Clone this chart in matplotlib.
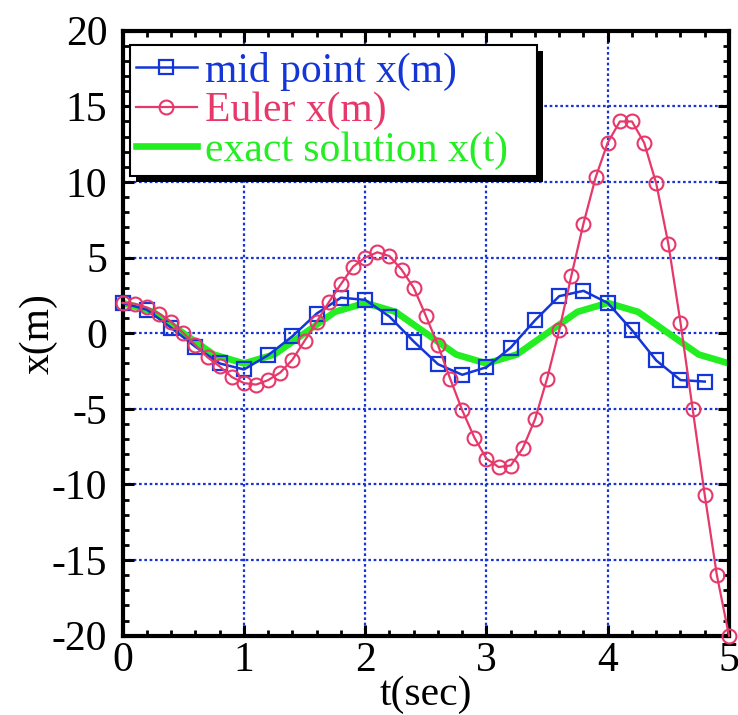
import numpy as np
import matplotlib
matplotlib.use("Agg")
import matplotlib.pyplot as plt
from matplotlib.patches import Rectangle
from matplotlib.ticker import MultipleLocator

plt.rcParams['font.family'] = ['Liberation Serif', 'DejaVu Serif']
plt.rcParams['axes.unicode_minus'] = False

# Euler, pas de 0.1 s
t_euler = np.linspace(0, 5, 51)
x_euler = [2.0, 1.95, 1.7, 1.3, 0.75, 0.0, -0.8, -1.6, -2.2, -2.9, -3.3,
           -3.4, -3.1, -2.6, -1.75, -0.5, 0.75, 2.05, 3.25, 4.4, 5.0,
           5.35, 5.1, 4.2, 3.0, 1.15, -0.8, -3.0, -5.1, -6.9, -8.3,
           -8.85, -8.75, -7.6, -5.7, -3.0, 0.2, 3.8, 7.25, 10.3, 12.6,
           14.0, 14.0, 12.6, 9.9, 5.9, 0.7, -5.0, -10.7, -16.0, -20.0]

# point milieu, pas de 0.2 s
t_mid = np.linspace(0, 4.8, 25)
x_mid = [2.0, 1.55, 0.35, -0.9, -2.0, -2.4, -1.45, -0.2, 1.3, 2.35,
         2.2, 1.1, -0.55, -2.05, -2.75, -2.25, -0.95, 0.85, 2.45, 2.8,
         2.0, 0.2, -1.8, -3.1, -3.2]

# solution exacte, pas de 0.25 s
t_exact = np.linspace(0, 5, 21)
x_exact = [2.0, 1.41, 0.0, -1.41, -2.0, -1.41, 0.0, 1.41, 2.0, 1.41, 0.0,
           -1.41, -2.0, -1.41, 0.0, 1.41, 2.0, 1.41, 0.0, -1.41, -2.0]

c_blue = '#1436d6'
c_red = '#e6386a'
c_green = '#22ee22'

fig = plt.figure(figsize=(7.38, 7.15), dpi=100)
ax = fig.add_axes([0.1663, 0.111, 0.8215, 0.846])

ax.plot(t_exact, x_exact, color=c_green, lw=4.8, zorder=2,
        label='exact solution x(t)', solid_joinstyle='miter')
ax.plot(t_mid, x_mid, color=c_blue, lw=1.8, marker='s', ms=10,
        mfc='none', mec=c_blue, mew=1.6, zorder=3, label='mid point x(m)',
        clip_on=False)
ax.plot(t_euler, x_euler, color=c_red, lw=1.6, marker='o', ms=10,
        mfc='none', mec=c_red, mew=1.5, zorder=4, label='Euler x(m)',
        clip_on=False)

ax.set_xlim(0, 5)
ax.set_ylim(-20, 20)
ax.xaxis.set_major_locator(MultipleLocator(1))
ax.xaxis.set_minor_locator(MultipleLocator(0.2))
ax.yaxis.set_major_locator(MultipleLocator(5))
ax.yaxis.set_minor_locator(MultipleLocator(1))
ax.tick_params(which='both', direction='in', top=True, right=True,
               labelsize=30)
ax.tick_params(which='major', length=8, width=2.2)
ax.tick_params(which='minor', length=4, width=2.0)
ax.tick_params(axis='y', pad=11)
ax.tick_params(axis='x', pad=4)
for s in ax.spines.values():
    s.set_linewidth(3)
ax.grid(True, which='major', color='#1535d8', ls=(0, (1.2, 1.2)), lw=1.6)

ax.set_xlabel('t(sec)', fontsize=30, labelpad=-3)
ax.set_ylabel('x(m)', fontsize=30)
ax.yaxis.set_label_coords(-0.108, 0.5)

handles, labels = ax.get_legend_handles_labels()
order = [1, 2, 0]
leg = ax.legend([handles[i] for i in order], [labels[i] for i in order],
                loc='upper left', bbox_to_anchor=(0.012, 0.758, 0.671, 0.218),
                mode='expand', borderaxespad=0, fontsize=30, fancybox=False,
                edgecolor='k', framealpha=1, handlelength=1.45,
                handletextpad=0.2, labelspacing=0.03, borderpad=0.15)
leg.get_frame().set_linewidth(1.5)
for txt, h in zip(leg.get_texts(), [c_blue, c_red, c_green]):
    txt.set_color(h)
leg.set_zorder(6)

# ombre noire du cadre de légende
fig.canvas.draw()
bb = leg.get_window_extent().transformed(ax.transAxes.inverted())
dx = 6 / (ax.bbox.width)
dy = 6 / (ax.bbox.height)
ax.add_patch(Rectangle((bb.x0 + dx, bb.y0 - dy), bb.width, bb.height,
                       transform=ax.transAxes, facecolor='k',
                       edgecolor='none', zorder=5.5, clip_on=False))

fig.savefig('out.png', dpi=100)
